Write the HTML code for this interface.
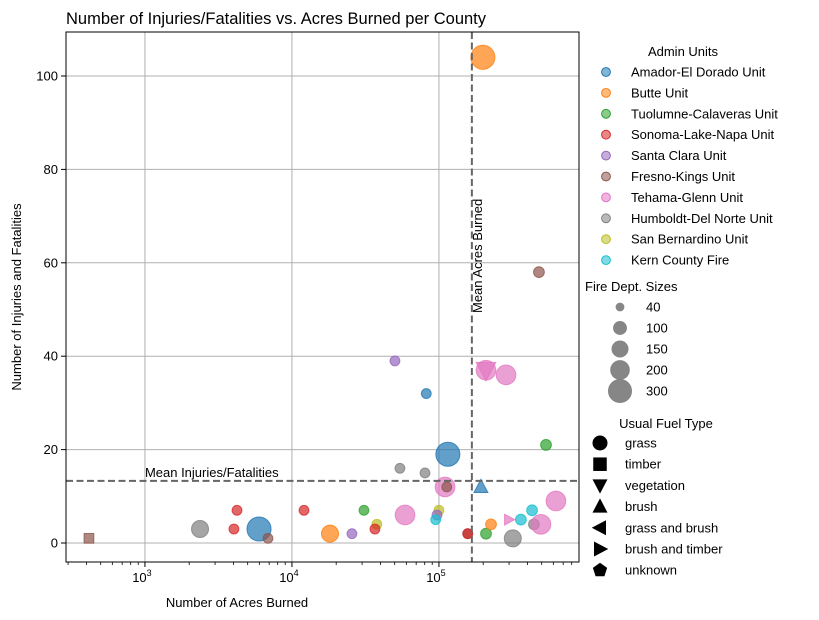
<!DOCTYPE html>
<html><head><meta charset="utf-8"><style>
body{margin:0;background:#fff;}
svg{display:block;font-family:"Liberation Sans","DejaVu Sans",sans-serif;}
</style></head><body>
<svg id="chart" width="819" height="620" viewBox="0 0 819 620" xmlns="http://www.w3.org/2000/svg">
<text x="66" y="24" font-size="16.5" fill="#000">Number of Injuries/Fatalities vs. Acres Burned per County</text>
<g id="grid"></g>
<g id="marks"></g>
<g id="axes"></g>
<g id="legend"></g>
<text x="237" y="607" font-size="13" text-anchor="middle">Number of Acres Burned</text>
<text transform="translate(21,297) rotate(-90)" font-size="13" text-anchor="middle">Number of Injuries and Fatalities</text>
</svg>
<script>
const unitNames=["Amador-El Dorado Unit","Butte Unit","Tuolumne-Calaveras Unit","Sonoma-Lake-Napa Unit","Santa Clara Unit","Fresno-Kings Unit","Tehama-Glenn Unit","Humboldt-Del Norte Unit","San Bernardino Unit","Kern County Fire"];
const unitColors=["#1f77b4","#ff7f0e","#2ca02c","#d62728","#9467bd","#8c564b","#e377c2","#7f7f7f","#bcbd22","#17becf"];
const fuelNames=["grass","timber","vegetation","brush","grass and brush","brush and timber","unknown"];
const sizeLegend=[40,100,150,200,300];
const acres=[416,2370,4230,4030,5970,6870,12080,18150,25600,30900,37800,36700,54300,58800,80400,82000,50200,100000,97000,95000,115000,110000,113000,193000,157000,157000,209000,226000,299000,361000,430000,318000,443000,494000,625000,535000,479000,209000,209000,286000,199000];
const injuries=[1,3,7,3,3,1,7,2,2,7,4,3,16,6,15,32,39,7,6,5,19,12,12,12,2,2,2,4,5,5,7,1,4,4,9,21,58,37,37,36,104];
const sizes=[60,150,50,50,300,50,50,150,50,50,50,50,50,200,50,50,50,50,50,50,300,200,50,100,50,50,60,60,60,60,60,150,60,200,200,60,60,200,200,200,300];
const units=[5,7,3,3,0,5,3,1,4,2,8,3,7,6,7,0,4,8,4,9,0,6,5,0,5,3,2,1,6,9,9,7,7,6,6,2,5,6,6,6,1];
const fuels=[1,0,0,0,0,0,0,0,0,0,0,0,0,0,0,0,0,0,0,0,0,0,0,3,0,0,0,0,5,0,0,0,0,0,0,0,0,2,0,0,0];
const xTicks=[1000,10000,100000];
const yTicks=[0,20,40,60,80,100];
const meanAcres=167500, meanInj=13.3;

const NS="http://www.w3.org/2000/svg";
const L=66,R=579,T=32,B=562;
const xs=a=>L+(Math.log10(a)-2.463)*147;
const ys=v=>543-v*4.67;
const rad=s=>Math.sqrt(s)/2*1.389;
function mk(tag,at,parent){const e=document.createElementNS(NS,tag);for(const k in at)e.setAttribute(k,at[k]);parent.appendChild(e);return e;}
function shape(f,cx,cy,r,at,parent){
  let e;
  if(f===0) e=mk('circle',Object.assign({cx,cy,r},at),parent);
  else if(f===1) e=mk('rect',Object.assign({x:cx-r*0.9,y:cy-r*0.9,width:r*1.8,height:r*1.8},at),parent);
  else{
    let pts;
    if(f===2) pts=[[-r,-r*0.8],[r,-r*0.8],[0,r*1.1]];
    else if(f===3) pts=[[-r,r*0.8],[r,r*0.8],[0,-r*1.1]];
    else if(f===4) pts=[[r*0.8,-r],[r*0.8,r],[-r*1.1,0]];
    else if(f===5) pts=[[-r*0.8,-r],[-r*0.8,r],[r*1.1,0]];
    else {pts=[];for(let i=0;i<5;i++){const t=-Math.PI/2+i*2*Math.PI/5;pts.push([r*Math.cos(t),r*Math.sin(t)]);}}
    e=mk('polygon',Object.assign({points:pts.map(p=>(cx+p[0])+','+(cy+p[1])).join(' ')},at),parent);
  }
  return e;
}
const grid=document.getElementById('grid'),axes=document.getElementById('axes'),marks=document.getElementById('marks'),leg=document.getElementById('legend');
xTicks.forEach(t=>{const x=xs(t);
  const g=mk('line',{x1:x,x2:x,y1:T,y2:B,stroke:'#b0b0b0','stroke-width':1},grid);
  
  
  mk('line',{x1:x,x2:x,y1:B,y2:B+5,stroke:'#000'},axes);
  const tx=mk('text',{x:x-3,y:B+20,'font-size':13,'text-anchor':'middle'},axes);
  
  
  tx.textContent='10';
  const sp=mk('tspan',{dy:-6,'font-size':9},tx);sp.textContent=String(Math.round(Math.log10(t)));
});
for(let d=2;d<=5;d++)for(let m=2;m<=9;m++){const x=xs(m*Math.pow(10,d));if(x>L&&x<R)mk('line',{x1:x,x2:x,y1:B,y2:B+3,stroke:'#000','stroke-width':0.8},axes);}
yTicks.forEach(t=>{const y=ys(t);
  const g=mk('line',{x1:L,x2:R,y1:y,y2:y,stroke:'#b0b0b0','stroke-width':1},grid);
  
  
  mk('line',{x1:L-5,x2:L,y1:y,y2:y,stroke:'#000'},axes);
  const tx=mk('text',{x:L-8,y:y+4.5,'font-size':13,'text-anchor':'end'},axes);
  
  
  tx.textContent=t;
});
const fr=mk('rect',{x:L,y:T,width:R-L,height:B-T,fill:'none',stroke:'#000','stroke-width':1},axes);


acres.forEach((a,i)=>{
  const c=unitColors[units[i]];
  const e=shape(fuels[i],xs(a),ys(injuries[i]),rad(sizes[i]),{fill:c,'fill-opacity':0.7,stroke:c,'stroke-opacity':0.8,'stroke-width':1},marks);
  
  
});
const mx=xs(meanAcres),my=ys(meanInj);
const ml1=mk('line',{x1:mx,x2:mx,y1:T,y2:B,stroke:'#666','stroke-width':2,'stroke-dasharray':'7,3.5'},marks);


const ml2=mk('line',{x1:L,x2:R,y1:my,y2:my,stroke:'#666','stroke-width':2,'stroke-dasharray':'7,3.5'},marks);


const t1=mk('text',{x:xs(1000),y:my-4,'font-size':13},marks);t1.textContent='Mean Injuries/Fatalities';


const t2=mk('text',{transform:`translate(${mx+10},${313}) rotate(-90)`,'font-size':13},marks);t2.textContent='Mean Acres Burned';


// legend
function lt(x,y,s,anchor){const e=mk('text',{x,y,'font-size':13,'text-anchor':anchor||'start'},leg);e.textContent=s;return e;}
const h1=lt(683,56,'Admin Units','middle');
unitNames.forEach((n,i)=>{const y=72+i*20.9;
  mk('circle',{cx:606,cy:y,r:4.4,fill:unitColors[i],'fill-opacity':0.55,stroke:unitColors[i]},leg);
  const e=lt(631,y+4.5,n);
  
  
});
const h2=lt(585,291,'Fire Dept. Sizes');
const sy=[307,328,349,370,391];
sizeLegend.forEach((s,i)=>{
  mk('circle',{cx:620,cy:sy[i],r:rad(s),fill:'#7f7f7f','fill-opacity':0.95},leg);
  const e=lt(646,sy[i]+4.5,String(s));
  
  
});
const h3=lt(666,428,'Usual Fuel Type','middle');
fuelNames.forEach((n,i)=>{const y=443+i*21.2;
  shape(i,600,y,7.5,{fill:'#000'},leg);
  const e=lt(625,y+4.5,n);
  
  
});
</script>
</body></html>
